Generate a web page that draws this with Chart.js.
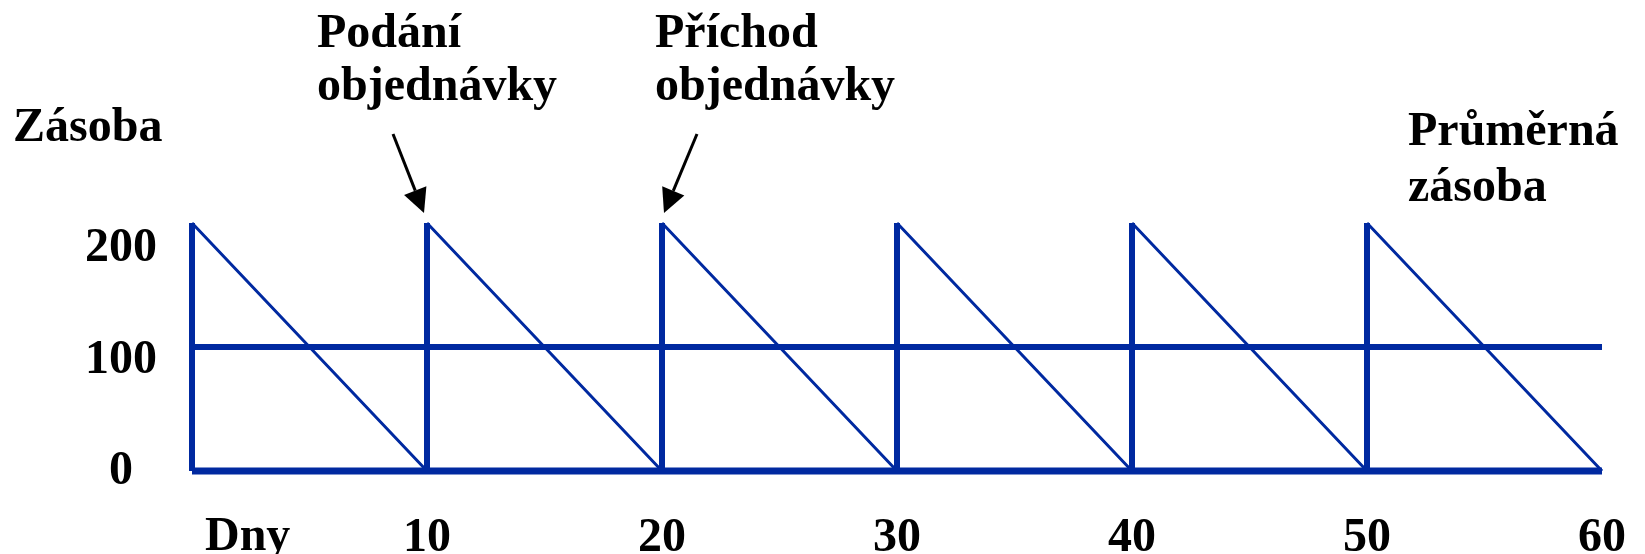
<!DOCTYPE html>
<html>
<head>
<meta charset="utf-8">
<script src="https://cdn.jsdelivr.net/npm/chart.js@4.4.1/dist/chart.umd.min.js"></script>
<style>
  html, body { margin: 0; padding: 0; background: #fff; }
  #wrap { width: 1645px; height: 554px; }
</style>
</head>
<body>
<div id="wrap"><canvas id="chart" width="1645" height="554"></canvas></div>
<script>
// --- DATA ---
const cycleStart = [0, 10, 20, 30, 40, 50];
const cycleEnd = [10, 20, 30, 40, 50, 60];
const stockAfterDelivery = [200, 200, 200, 200, 200, 200];
const stockBeforeDelivery = [0, 0, 0, 0, 0, 0];
const averageStock = 100;
const firstDay = 0;
const lastDay = 60;
const dayTicks = [10, 20, 30, 40, 50, 60];
const stockTicks = [0, 100, 200];
const orderPlacedDay = 10;
const orderArrivalDay = 20;

const BLUE = '#0029a0';
const FONT = { family: 'Liberation Serif', size: 48, weight: 'bold' };

// pilovitý průběh zásoby (null = přerušení čáry)
const sawPoints = [];
const deliveryPoints = [];
cycleStart.forEach((d, i) => {
    sawPoints.push({ x: d, y: stockAfterDelivery[i] });
    sawPoints.push({ x: cycleEnd[i], y: stockBeforeDelivery[i] });
    sawPoints.push({ x: cycleEnd[i], y: null });
    deliveryPoints.push({ x: d, y: stockBeforeDelivery[i] });
    deliveryPoints.push({ x: d, y: stockAfterDelivery[i] });
    deliveryPoints.push({ x: d, y: null });
});

// --- POPISKY A ŠIPKY ---
const labelsPlugin = {
    id: 'labels',
    afterDraw(chart) {
        const { ctx, scales, chartArea } = chart;
        const x = scales.x, y = scales.y;
        ctx.save();
        ctx.fillStyle = '#000';
        ctx.font = 'bold 48px "Liberation Serif"';
        ctx.textAlign = 'left';
        ctx.textBaseline = 'alphabetic';
        ctx.fillText('Zásoba', 13, 141);
        ctx.fillText('Podání', 317, 47);
        ctx.fillText('objednávky', 317, 100);
        ctx.fillText('Příchod', 655, 47);
        ctx.fillText('objednávky', 655, 100);
        ctx.fillText('Průměrná', 1408, 145);
        ctx.fillText('zásoba', 1408, 201);
        ctx.textBaseline = 'middle';
        ctx.fillText('Dny', chartArea.left + 13, 538);

        // šipky
        const arrow = (tx, ty, fx, fy) => {
            const ang = Math.atan2(ty - fy, tx - fx);
            const len = 24, half = 12;
            const bx = tx - len * Math.cos(ang), by = ty - len * Math.sin(ang);
            ctx.strokeStyle = '#000';
            ctx.lineWidth = 3;
            ctx.beginPath();
            ctx.moveTo(fx, fy);
            ctx.lineTo(bx, by);
            ctx.stroke();
            ctx.beginPath();
            ctx.moveTo(tx, ty);
            ctx.lineTo(bx - half * Math.sin(ang), by + half * Math.cos(ang));
            ctx.lineTo(bx + half * Math.sin(ang), by - half * Math.cos(ang));
            ctx.closePath();
            ctx.fill();
        };
        const topY = y.getPixelForValue(stockAfterDelivery[0]) - 10;
        const p1 = x.getPixelForValue(orderPlacedDay) - 3;
        const p2 = x.getPixelForValue(orderArrivalDay) + 2;
        arrow(p1, topY, p1 - 31, topY - 79);
        arrow(p2, topY, p2 + 33, topY - 79);
        ctx.restore();
    }
};

new Chart(document.getElementById('chart'), {
    type: 'line',
    data: {
        datasets: [
            { data: sawPoints, borderColor: BLUE, borderWidth: 3, clip: 10 },
            { data: deliveryPoints, borderColor: BLUE, borderWidth: 6, clip: 10 },
            { data: [{ x: firstDay, y: averageStock }, { x: lastDay, y: averageStock }], borderColor: BLUE, borderWidth: 6, clip: 10 },
            { data: [{ x: firstDay, y: 0 }, { x: lastDay, y: 0 }], borderColor: BLUE, borderWidth: 7, clip: 10 }
        ]
    },
    options: {
        responsive: false,
        animation: false,
        devicePixelRatio: 1,
        spanGaps: false,
        elements: { point: { radius: 0 }, line: { tension: 0, fill: false } },
        layout: { padding: { top: 223, right: 43, left: 0, bottom: 0 } },
        plugins: { legend: { display: false }, tooltip: { enabled: false } },
        scales: {
            x: {
                type: 'linear',
                min: firstDay,
                max: lastDay,
                grid: { display: false, drawTicks: false },
                border: { display: false },
                afterBuildTicks: (s) => { s.ticks = dayTicks.map(v => ({ value: v })); },
                afterFit: (s) => { s.height = 83; s.paddingRight = 0; s.paddingLeft = 0; },
                ticks: { font: FONT, color: '#000', padding: 39, autoSkip: false, maxRotation: 0 }
            },
            y: { display: false, min: 0, max: 200 },
            // osa jen pro popisky (v originále posunuté oproti čarám)
            yLab: {
                position: 'left',
                min: 0.9,
                max: 223.3,
                grid: { display: false, drawTicks: false },
                border: { display: false },
                afterBuildTicks: (s) => { s.ticks = stockTicks.map(v => ({ value: v })); },
                afterFit: (s) => { s.width = 192; s.paddingTop = 0; s.paddingBottom = 0; },
                ticks: { font: FONT, color: '#000', padding: 35, crossAlign: 'center' }
            }
        }
    },
    plugins: [labelsPlugin]
});
</script>
</body>
</html>
